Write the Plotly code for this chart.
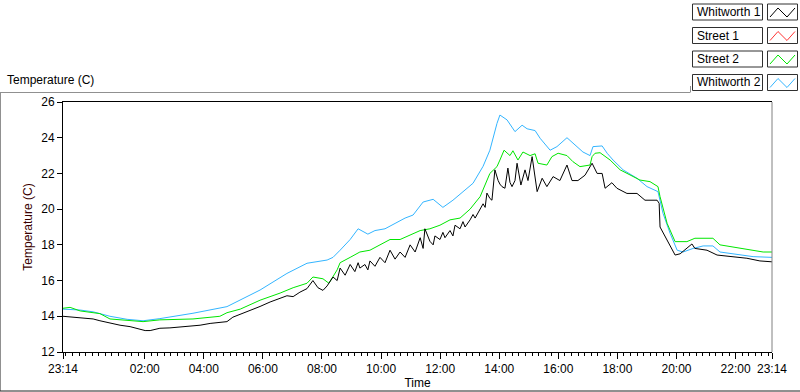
import plotly.graph_objects as go

# ---------------- data (elapsed hours since 23:14, temperature in C) -------------
w1_hours = [0, 0.24, 0.58, 1.02, 1.25, 1.59, 1.93, 2.27, 2.61, 2.78, 2.95, 3.28, 3.62, 3.96, 4.40,
            4.64, 4.98, 5.31, 5.55, 5.75, 5.99, 6.33, 6.67, 7.01, 7.35, 7.58, 7.79, 8.02, 8.26,
            8.46, 8.63, 8.80, 8.94, 9.14, 9.28, 9.38, 9.55, 9.72, 9.88, 9.99, 10.05, 10.22,
            10.32, 10.39, 10.56, 10.73, 10.90, 11.07, 11.24, 11.41, 11.58, 11.75, 11.92, 12.09,
            12.19, 12.25, 12.42, 12.53, 12.59, 12.76, 12.86, 12.93, 13.10, 13.20, 13.27, 13.44,
            13.54, 13.61, 13.78, 13.88, 13.95, 14.12, 14.22, 14.29, 14.35, 14.45, 14.52, 14.62,
            14.69, 14.73, 14.79, 14.86, 14.96, 15.06, 15.13, 15.20, 15.30, 15.37, 15.50, 15.64,
            15.74, 15.88, 16.05, 16.22, 16.38, 16.59, 16.82, 17.06, 17.23, 17.43, 17.67, 17.91,
            18.08, 18.25, 18.35, 18.58, 18.75, 19.09, 19.43, 19.70, 20.11, 20.18, 20.21, 20.45,
            20.72, 20.89, 21.29, 21.39, 21.80, 22.14, 22.58, 23.15, 23.59, 24.0]
w1_temp = [14.0, 13.97, 13.92, 13.85, 13.75, 13.62, 13.5, 13.42, 13.3, 13.2, 13.2, 13.33, 13.35,
           13.4, 13.45, 13.5, 13.6, 13.65, 13.7, 13.95, 14.1, 14.35, 14.55, 14.8, 15.0, 15.15,
           15.1, 15.35, 15.55, 16.0, 15.6, 15.45, 15.7, 16.2, 16.0, 16.7, 16.3, 16.9, 16.5, 17.0,
           16.7, 16.9, 16.6, 17.1, 16.8, 17.3, 17.0, 17.7, 17.2, 17.6, 17.3, 18.0, 17.6, 18.4,
           17.8, 18.9, 18.2, 18.0, 18.5, 18.3, 18.7, 18.4, 18.8, 18.5, 19.1, 18.9, 19.3, 19.0,
           19.4, 19.7, 19.5, 20.0, 20.3, 20.1, 20.9, 20.6, 20.5, 22.2, 21.8, 21.6, 21.4, 21.26,
           21.17, 22.3, 21.5, 21.26, 21.6, 22.57, 21.35, 22.2, 21.6, 22.94, 20.98, 21.73, 21.26,
           21.82, 21.6, 22.47, 21.6, 21.6, 21.9, 22.57, 22.0, 22.0, 21.17, 21.48, 21.17, 20.88,
           20.88, 20.5, 20.5, 20.33, 19.0, 18.27, 17.43, 17.5, 18.05, 17.8, 17.7, 17.43, 17.34,
           17.25, 17.1, 17.05]

s1_hours = []
s1_temp = []

s2_hours = [0, 0.24, 0.58, 1.02, 1.25, 1.59, 1.93, 2.27, 2.71, 3.28, 4.40, 5.31, 5.55, 6.0, 6.67,
            7.35, 7.79, 8.26, 8.46, 8.80, 9.00, 9.28, 9.38, 9.72, 10.05, 10.39, 10.73, 11.07,
            11.41, 11.75, 12.09, 12.42, 12.76, 13.10, 13.44, 13.78, 14.12, 14.45, 14.69, 14.79,
            14.93, 15.13, 15.23, 15.40, 15.57, 15.81, 15.98, 16.08, 16.38, 16.55, 16.76, 17.06,
            17.26, 17.50, 17.77, 17.84, 17.91, 18.01, 18.18, 18.52, 18.86, 19.19, 19.53, 19.87,
            20.14, 20.21, 20.45, 20.72, 21.12, 21.39, 22.00, 22.24, 23.02, 23.70, 24.0]
s2_temp = [14.45, 14.5, 14.3, 14.2, 14.15, 13.85, 13.8, 13.75, 13.7, 13.8, 13.85, 14.0, 14.2, 14.4,
           14.9, 15.3, 15.6, 15.85, 16.2, 16.1, 15.85, 16.6, 17.0, 17.3, 17.6, 17.7, 18.0, 18.3,
           18.3, 18.55, 18.8, 18.9, 19.1, 19.4, 19.5, 20.0, 20.7, 22.0, 22.38, 22.75, 23.3, 23.0,
           23.27, 22.75, 23.2, 23.0, 23.1, 22.57, 22.47, 22.94, 23.13, 23.0, 22.66, 22.38, 22.47,
           22.47, 22.94, 23.13, 23.16, 22.75, 22.2, 21.9, 21.63, 21.54, 21.26, 20.7, 19.2, 18.18,
           18.18, 18.37, 18.37, 18.0, 17.8, 17.6, 17.6]

w2_hours = [0, 0.58, 1.02, 1.59, 2.17, 2.71, 3.28, 4.40, 5.55, 6.67, 7.58, 8.26, 8.94, 9.14, 9.38,
            9.72, 9.99, 10.32, 10.56, 10.90, 11.24, 11.58, 11.85, 12.19, 12.53, 12.86, 13.20,
            13.54, 13.88, 14.22, 14.45, 14.69, 14.79, 15.03, 15.30, 15.54, 15.71, 15.98, 16.15,
            16.49, 16.72, 17.06, 17.26, 17.60, 17.84, 17.94, 18.25, 18.42, 18.62, 18.96, 19.43,
            19.77, 20.14, 20.31, 20.55, 20.79, 20.99, 21.33, 21.67, 22.00, 22.24, 22.92, 23.36, 24.0]
w2_temp = [14.4, 14.35, 14.25, 14.0, 13.83, 13.75, 13.87, 14.17, 14.54, 15.47, 16.4, 16.97, 17.15,
           17.3, 17.7, 18.3, 18.9, 18.6, 18.8, 18.9, 19.2, 19.5, 19.67, 20.4, 20.55, 20.1, 20.5,
           20.98, 21.45, 22.4, 23.3, 24.8, 25.27, 25.0, 24.34, 24.7, 24.5, 24.4, 23.97, 23.3,
           23.5, 24.0, 23.7, 23.2, 23.0, 23.5, 23.54, 23.13, 22.75, 22.2, 21.73, 21.26, 20.98,
           19.77, 18.65, 17.7, 17.6, 17.8, 17.94, 17.94, 17.6, 17.43, 17.34, 17.3]

series_names = ["Whitworth 1", "Street 1", "Street 2", "Whitworth 2"]
series_colors = ["#000000", "#ff3333", "#00e600", "#33b5ff"]

x_tick_labels = ["23:14", "02:00", "04:00", "06:00", "08:00", "10:00", "12:00",
                 "14:00", "16:00", "18:00", "20:00", "22:00", "23:14"]
y_ticks = [12, 14, 16, 18, 20, 22, 24, 26]

START_H, START_M = 23, 14


def elapsed(label, idx):
    h, m = map(int, label.split(":"))
    e = (h * 60 + m - (START_H * 60 + START_M)) / 60.0
    if e < 0 or (idx > 0 and e == 0):
        e += 24
    return e


x_tick_vals = [elapsed(l, i) for i, l in enumerate(x_tick_labels)]

# ---------------- figure -------------
W, H = 800, 392
L, R, T, B = 63, 772, 102, 352

fig = go.Figure()
all_series = [(w1_hours, w1_temp), (s1_hours, s1_temp), (s2_hours, s2_temp), (w2_hours, w2_temp)]
draw_order = [3, 2, 1, 0]
for i in draw_order:
    xs, ys = all_series[i]
    fig.add_trace(go.Scatter(x=xs, y=ys, mode="lines", name=series_names[i],
                             line=dict(color=series_colors[i], width=1), showlegend=False))

FONT = "Liberation Sans, Arial, sans-serif"

fig.update_layout(
    width=W, height=H,
    margin=dict(l=L, r=W - R, t=T, b=H - B, pad=0, autoexpand=False),
    paper_bgcolor="white", plot_bgcolor="white",
    font=dict(family=FONT, size=12, color="black"),
    showlegend=False,
    hovermode=False,
    xaxis=dict(range=[0, 24], tickmode="array", tickvals=x_tick_vals, ticktext=x_tick_labels,
               automargin=False,
               showgrid=False, zeroline=False, showline=True, linecolor="black", linewidth=1,
               mirror=True, ticks="outside", ticklen=6, tickcolor="black", tickwidth=1,
               tickfont=dict(size=12, color="black"),
               minor=dict(tickmode="linear", tick0=x_tick_vals[1], dtick=2 / 9, ticks="outside",
                          ticklen=3, tickcolor="black", tickwidth=1, showgrid=False),
               title=dict(text="Time", font=dict(size=12, color="black"), standoff=2)),
    yaxis=dict(range=[12, 26], tickmode="array", tickvals=y_ticks,
               automargin=False,
               showgrid=False, zeroline=False, showline=True, linecolor="black", linewidth=1,
               ticks="outside", ticklen=5, tickcolor="black", tickwidth=1,
               tickfont=dict(size=12, color="black"),
               title=dict(text="Temperature (C)", font=dict(size=12, color="#3a0000"), standoff=6)),
)

shapes = []
# right plot border in gray
shapes.append(dict(type="line", xref="paper", yref="paper", x0=1, x1=1, y0=0, y1=1,
                   line=dict(color="#808080", width=1)))


def px(x):
    # pixel x -> paper (plot-area) coordinate
    return (x - L) / (R - L)


def py(y):
    return (B - y) / (B - T)


# frame lines
shapes.append(dict(type="line", xref="paper", yref="paper", x0=px(0), x1=px(690),
                   y0=py(92.5), y1=py(92.5), line=dict(color="#909090", width=1)))
shapes.append(dict(type="line", xref="paper", yref="paper", x0=px(690.5), x1=px(690.5),
                   y0=py(92.5), y1=py(86), line=dict(color="#909090", width=1)))
shapes.append(dict(type="line", xref="paper", yref="paper", x0=px(0.5), x1=px(0.5),
                   y0=py(92.5), y1=py(391), line=dict(color="#909090", width=1)))
shapes.append(dict(type="line", xref="paper", yref="paper", x0=px(0), x1=px(800),
                   y0=py(391), y1=py(391), line=dict(color="#202020", width=1)))

annotations = [dict(text="Temperature (C)", xref="paper", yref="paper", x=px(5), y=py(80),
                    xanchor="left", yanchor="middle", showarrow=False,
                    font=dict(size=12, color="black", family=FONT))]

# legend built from boxes
row_tops = [4, 27.5, 51, 74.5]
box_h = 16
for name, color, top in zip(series_names, series_colors, row_tops):
    shapes.append(dict(type="rect", xref="paper", yref="paper", x0=px(692.5), x1=px(762.5),
                       y0=py(top), y1=py(top + box_h), line=dict(color="#303030", width=1),
                       fillcolor="white"))
    shapes.append(dict(type="rect", xref="paper", yref="paper", x0=px(767.5), x1=px(797.5),
                       y0=py(top), y1=py(top + box_h), line=dict(color="#303030", width=1),
                       fillcolor="white"))
    pts = [(770, top + 13), (778, top + 4), (787, top + 13), (795, top + 4)]
    path = "M " + " L ".join(f"{px(a):.5f},{py(b):.5f}" for a, b in pts)
    shapes.append(dict(type="path", xref="paper", yref="paper", path=path,
                       line=dict(color=color, width=1)))
    annotations.append(dict(text=name, xref="paper", yref="paper", x=px(695), y=py(top + box_h / 2),
                            xanchor="left", yanchor="middle", showarrow=False,
                            font=dict(size=12, color="black", family=FONT)))

fig.update_layout(shapes=shapes, annotations=annotations)

fig.write_html("out.html", config={"displayModeBar": False, "staticPlot": True},
               post_script="document.body.style.margin='0';document.body.style.padding='0';"
                           "document.body.style.overflow='hidden';")
